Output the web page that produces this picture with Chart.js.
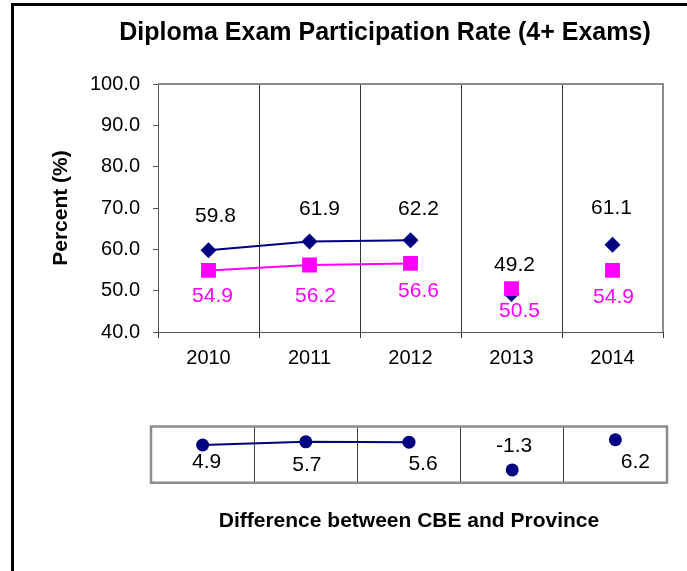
<!DOCTYPE html>
<html>
<head>
<meta charset="utf-8">
<script src="https://cdn.jsdelivr.net/npm/chart.js@4.4.0/dist/chart.umd.min.js"></script>
<style>
  html, body { margin: 0; padding: 0; overflow: hidden; background: #fff; }
  body { width: 687px; height: 571px; position: relative; }
  #frame { position: absolute; left: 11px; top: 3px; width: 720px; height: 620px; border: 3px solid #000; }
  #main { position: absolute; left: 0; top: 0; }
  #diff { position: absolute; left: 141px; top: 420px; }
</style>
</head>
<body>
<div id="frame"></div>
<canvas id="main" width="730" height="372"></canvas>
<canvas id="diff" width="536" height="130"></canvas>
<script>
const years = ["2010", "2011", "2012", "2013", "2014"];
const cbe = [59.8, 61.9, 62.2, 49.2, 61.1];
const province = [54.9, 56.2, 56.6, 50.5, 54.9];
const difference = [4.9, 5.7, 5.6, -1.3, 6.2];
const yTicks = [40, 50, 60, 70, 80, 90, 100];
// line only joins the first three years
const joined = [true, true, false, false];

// label nudges (x, y) relative to each point
const cbeShift = [[7, -34], [10, -32], [8, -31], [3, -29], [-1, -37]];
const provShift = [[4, 26], [6, 31], [8, 28], [8, 23], [1, 27]];
const diffShift = [[4, 17], [1, 23], [14, 22], [2, -24], [20, 22]];

const FONT = "'Liberation Sans', Arial, sans-serif";
const NAVY = "#000080";
const PINK = "#FF00FF";

function labelPlugin(id, specs, size) {
  return {
    id: id,
    afterDatasetsDraw(chart) {
      const ctx = chart.ctx;
      ctx.save();
      ctx.font = size + "px " + FONT;
      ctx.textAlign = "center";
      ctx.textBaseline = "middle";
      specs.forEach(function (s) {
        const meta = chart.getDatasetMeta(s.index);
        const values = chart.data.datasets[s.index].data;
        ctx.fillStyle = s.color;
        meta.data.forEach(function (pt, i) {
          ctx.fillText(values[i].toFixed(1), pt.x + s.shift[i][0], pt.y + s.shift[i][1]);
        });
      });
      ctx.restore();
    }
  };
}

function boxPlugin(id, color, width, sides) {
  return {
    id: id,
    afterDraw(chart) {
      const a = chart.chartArea;
      const ctx = chart.ctx;
      ctx.save();
      ctx.strokeStyle = color;
      ctx.lineWidth = width;
      ctx.beginPath();
      if (sides === "all") {
        ctx.rect(a.left, a.top, a.right - a.left, a.bottom - a.top);
      } else {
        ctx.moveTo(a.left, a.top);
        ctx.lineTo(a.right, a.top);
        ctx.lineTo(a.right, a.bottom);
      }
      ctx.stroke();
      ctx.restore();
    }
  };
}

new Chart(document.getElementById("main").getContext("2d"), {
  type: "line",
  data: {
    labels: years,
    datasets: [
      {
        label: "Province",
        data: province,
        borderColor: PINK,
        backgroundColor: PINK,
        borderWidth: 2,
        pointStyle: "rect",
        pointRadius: 10.5,
        pointBorderWidth: 0,
        segment: { borderColor: c => joined[c.p0DataIndex] ? PINK : "transparent" },
      },
      {
        label: "CBE",
        data: cbe,
        borderColor: NAVY,
        backgroundColor: NAVY,
        borderWidth: 2,
        pointStyle: "rectRot",
        pointRadius: 8,
        pointBorderWidth: 0,
        segment: { borderColor: c => joined[c.p0DataIndex] ? NAVY : "transparent" },
      },
    ],
  },
  options: {
    responsive: false,
    animation: false,
    layout: { padding: { left: 40, right: 0, top: 0, bottom: 0 } },
    plugins: {
      legend: { display: false },
      tooltip: { enabled: false },
      title: {
        display: true,
        text: "Diploma Exam Participation Rate (4+ Exams)",
        color: "#000",
        font: { family: FONT, size: 25, weight: "bold" },
        padding: { top: 18, bottom: 36 },
      },
    },
    scales: {
      x: {
        offset: true,
        grid: { offset: true, color: "#333", tickLength: 6 },
        border: { color: "#555" },
        ticks: { color: "#000", font: { family: FONT, size: 20 }, padding: 8 },
        afterFit: s => { s.height = 40; },
      },
      y: {
        min: yTicks[0],
        max: yTicks[yTicks.length - 1],
        afterBuildTicks: s => { s.ticks = yTicks.map(v => ({ value: v })); },
        ticks: { color: "#000", font: { family: FONT, size: 20 }, padding: 13, callback: v => v.toFixed(1) },
        grid: { drawOnChartArea: false, tickLength: 5, color: "#555" },
        border: { color: "#555" },
        title: {
          display: true,
          text: "Percent (%)",
          color: "#000",
          font: { family: FONT, size: 21, weight: "bold" },
          padding: { top: 9, bottom: 0 },
        },
        afterFit: s => { s.width = 118; },
      },
      spacer: {
        position: "right",
        ticks: { display: false },
        grid: { display: false },
        border: { display: false },
        afterFit: s => { s.width = 67; },
      },
    },
  },
  plugins: [
    boxPlugin("mainBox", "#8c8c8c", 2, "topRight"),
    labelPlugin("mainLabels", [
      { index: 1, color: "#000", shift: cbeShift },
      { index: 0, color: PINK, shift: provShift },
    ], 21),
  ],
});

new Chart(document.getElementById("diff").getContext("2d"), {
  type: "line",
  data: {
    labels: years,
    datasets: [
      {
        label: "Difference",
        data: difference,
        borderColor: NAVY,
        backgroundColor: NAVY,
        borderWidth: 2,
        pointStyle: "circle",
        pointRadius: 6.5,
        pointBorderWidth: 0,
        segment: { borderColor: c => joined[c.p0DataIndex] ? NAVY : "transparent" },
      },
    ],
  },
  options: {
    responsive: false,
    animation: false,
    layout: { padding: { left: 10, right: 10, top: 4, bottom: 0 } },
    plugins: {
      legend: { display: false },
      tooltip: { enabled: false },
      title: {
        display: true,
        position: "bottom",
        text: "Difference between CBE and Province",
        color: "#000",
        font: { family: FONT, size: 21, weight: "bold" },
        padding: { top: 26, bottom: 16 },
      },
    },
    scales: {
      x: {
        offset: true,
        grid: { offset: true, color: "#404040", drawTicks: false },
        border: { display: false },
        ticks: { display: false },
        afterFit: s => { s.height = 0; },
      },
      y: { display: false, min: -4.5, max: 9.5 },
    },
  },
  plugins: [
    boxPlugin("diffBox", "#8c8c8c", 2.5, "all"),
    labelPlugin("diffLabels", [{ index: 0, color: "#000", shift: diffShift }], 21),
  ],
});
</script>
</body>
</html>
